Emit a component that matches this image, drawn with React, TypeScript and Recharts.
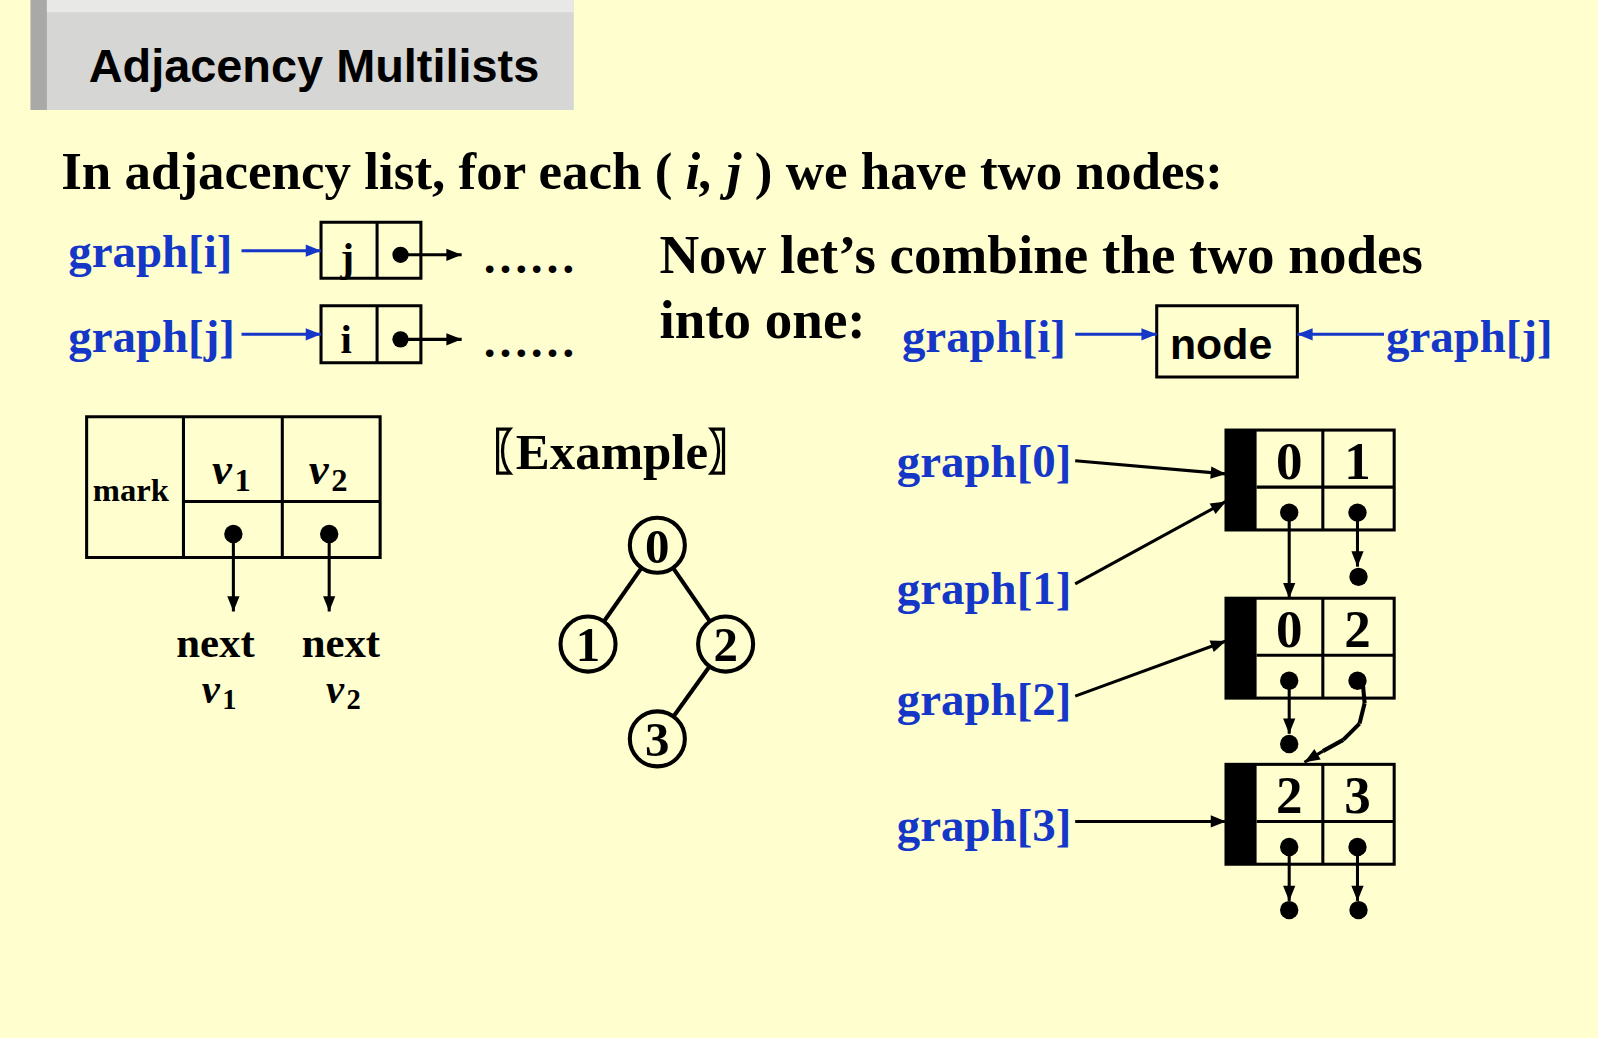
import { ScatterChart, Scatter, XAxis, YAxis, ReferenceLine, ReferenceArea, ReferenceDot } from 'recharts';

// the layout is measured on a 1568-wide copy; it is scaled up to 1598 on screen
const W = 1568;
const H = 1019;
const K = 1598 / 1568;
const BLUE = '#1537c8';
const SERIF = '"Liberation Serif", "DejaVu Serif", serif';
const SANS = '"Liberation Sans", Arial, sans-serif';

// text items: x, y (baseline), label, size, colour, italic, font
const texts = [
  { x: 87, y: 80, t: 'Adjacency Multilists', s: 46, c: '#000', f: SANS },
  { x: 67, y: 262, t: 'graph[i]', s: 46, c: BLUE },
  { x: 67, y: 345, t: 'graph[j]', s: 46, c: BLUE },
  { x: 334, y: 266, t: 'j', s: 40, c: '#000' },
  { x: 334, y: 346, t: 'i', s: 40, c: '#000' },
  { x: 473, y: 268, t: '……', s: 46, c: '#000' },
  { x: 473, y: 350, t: '……', s: 46, c: '#000' },
  { x: 647, y: 268, t: 'Now let\u2019s combine the two nodes', s: 54, c: '#000' },
  { x: 647, y: 332, t: 'into one:', s: 54, c: '#000' },
  { x: 885, y: 345, t: 'graph[i]', s: 46, c: BLUE },
  { x: 1148, y: 352, t: 'node', s: 42, c: '#000', f: SANS },
  { x: 1360, y: 345, t: 'graph[j]', s: 46, c: BLUE },
  { x: 91, y: 492, t: 'mark', s: 32, c: '#000' },
  { x: 208, y: 475, t: 'v', s: 44, c: '#000', i: true },
  { x: 230, y: 482, t: '1', s: 32, c: '#000' },
  { x: 303, y: 475, t: 'v', s: 44, c: '#000', i: true },
  { x: 325, y: 482, t: '2', s: 32, c: '#000' },
  { x: 173, y: 645, t: 'next', s: 42, c: '#000' },
  { x: 198, y: 690, t: 'v', s: 40, c: '#000', i: true },
  { x: 218, y: 696, t: '1', s: 28, c: '#000' },
  { x: 296, y: 645, t: 'next', s: 42, c: '#000' },
  { x: 320, y: 690, t: 'v', s: 40, c: '#000', i: true },
  { x: 340, y: 696, t: '2', s: 28, c: '#000' },
  { x: 880, y: 468, t: 'graph[0]', s: 46, c: BLUE },
  { x: 880, y: 593, t: 'graph[1]', s: 46, c: BLUE },
  { x: 880, y: 702, t: 'graph[2]', s: 46, c: BLUE },
  { x: 880, y: 825, t: 'graph[3]', s: 46, c: BLUE },
];

// heading pieces: text, italic
const heading = [
  { t: 'In adjacency list, for each ( ', i: false },
  { t: 'i, j', i: true },
  { t: ' ) we have two nodes:', i: false },
];

// graph vertices
const vertices = [
  { x: 645, y: 535, t: '0' },
  { x: 577, y: 632, t: '1' },
  { x: 712, y: 632, t: '2' },
  { x: 645, y: 725, t: '3' },
];
const edges = [[0, 1], [0, 2], [2, 3]];

// multilist nodes: top y, v1, v2
const mnodes = [
  { y: 422, a: '0', b: '1' },
  { y: 587, a: '0', b: '2' },
  { y: 750, a: '2', b: '3' },
];

const boxes = [
  { x1: 315, x2: 413, y1: 218, y2: 273 },
  { x1: 315, x2: 413, y1: 300, y2: 356 },
  { x1: 1135, x2: 1273, y1: 300, y2: 370 },
  { x1: 85, x2: 373, y1: 409, y2: 547 },
];

const lines = [
  { x1: 370, y1: 218, x2: 370, y2: 273 },
  { x1: 370, y1: 300, x2: 370, y2: 356 },
  { x1: 180, y1: 409, x2: 180, y2: 547 },
  { x1: 277, y1: 409, x2: 277, y2: 547 },
  { x1: 180, y1: 492, x2: 373, y2: 492 },
];

const arrows = [
  { x1: 237, y1: 246, x2: 315, y2: 246, c: BLUE },
  { x1: 237, y1: 328, x2: 315, y2: 328, c: BLUE },
  { x1: 393, y1: 250, x2: 453, y2: 250, c: '#000' },
  { x1: 393, y1: 333, x2: 453, y2: 333, c: '#000' },
  { x1: 1055, y1: 328, x2: 1135, y2: 328, c: BLUE },
  { x1: 1358, y1: 328, x2: 1273, y2: 328, c: BLUE },
  { x1: 229, y1: 524, x2: 229, y2: 600, c: '#000' },
  { x1: 323, y1: 524, x2: 323, y2: 600, c: '#000' },
  { x1: 1055, y1: 452, x2: 1203, y2: 465, c: '#000' },
  { x1: 1055, y1: 573, x2: 1203, y2: 492, c: '#000' },
  { x1: 1055, y1: 683, x2: 1203, y2: 629, c: '#000' },
  { x1: 1055, y1: 806, x2: 1203, y2: 806, c: '#000' },
  { x1: 1265, y1: 503, x2: 1265, y2: 587, c: '#000' },
  { x1: 1332, y1: 503, x2: 1332, y2: 556, c: '#000' },
  { x1: 1265, y1: 668, x2: 1265, y2: 720, c: '#000' },
  { x1: 1265, y1: 832, x2: 1265, y2: 884, c: '#000' },
  { x1: 1332, y1: 832, x2: 1332, y2: 884, c: '#000' },
  { x1: 1298, y1: 737, x2: 1280, y2: 748, c: '#000' },
];

const curve = [
  { x: 1337, y: 668 }, { x: 1339, y: 690 }, { x: 1334, y: 710 },
  { x: 1318, y: 726 }, { x: 1298, y: 737 },
];

const dots = [
  { x: 393, y: 250, r: 8 }, { x: 393, y: 333, r: 8 },
  { x: 229, y: 524, r: 9 }, { x: 323, y: 524, r: 9 },
  { x: 1333, y: 566, r: 9 }, { x: 1265, y: 730, r: 9 },
  { x: 1265, y: 893, r: 9 }, { x: 1333, y: 893, r: 9 },
];

const TextShape = (p: any) => {
  const d = p.payload;
  return (
    <text x={p.cx} y={p.cy} fontSize={d.s} fill={d.c} fontWeight="bold"
      fontStyle={d.i ? 'italic' : 'normal'} fontFamily={d.f || SERIF}>
      {d.t}
    </text>
  );
};

const HeadingShape = (p: any) => (
  <text x={p.cx} y={p.cy} fontSize={52} fontWeight="bold" fontFamily={SERIF} style={{ whiteSpace: 'pre' }}>
    {heading.map((h, i) => (
      <tspan key={i} fontStyle={h.i ? 'italic' : 'normal'}>{h.t}</tspan>
    ))}
  </text>
);

const ExampleShape = (p: any) => (
  <text x={p.cx} y={p.cy} fontSize={50} fontWeight="bold" fontFamily={SERIF}>
    <tspan>{'\u3016'}</tspan>
    <tspan dx={-22}>Example</tspan>
    <tspan>{'\u3017'}</tspan>
  </text>
);

const HeadShape = (p: any) => {
  const d = p.payload;
  const ang = (Math.atan2(d.y2 - d.y1, d.x2 - d.x1) * 180) / Math.PI;
  return (
    <polygon points="0,0 -15,-6 -15,6" fill={d.c}
      transform={`translate(${p.cx},${p.cy}) rotate(${ang})`} />
  );
};

const VertexShape = (p: any) => (
  <g>
    <circle cx={p.cx} cy={p.cy} r={27} fill="none" stroke="#000" strokeWidth={4} />
    <text x={p.cx} y={p.cy + 17} textAnchor="middle" fontSize={48} fontWeight="bold" fontFamily={SERIF}>
      {p.payload.t}
    </text>
  </g>
);

const MNodeShape = (p: any) => {
  const d = p.payload;
  const x = p.cx;
  const y = p.cy;
  return (
    <g>
      <rect x={x} y={y} width={165} height={98} fill="none" stroke="#000" strokeWidth={3} />
      <rect x={x} y={y} width={30} height={98} fill="#000" />
      <line x1={x + 95} y1={y} x2={x + 95} y2={y + 98} stroke="#000" strokeWidth={3} />
      <line x1={x + 30} y1={y + 56} x2={x + 165} y2={y + 56} stroke="#000" strokeWidth={3} />
      <text x={x + 62} y={y + 48} textAnchor="middle" fontSize={52} fontWeight="bold" fontFamily={SERIF}>{d.a}</text>
      <text x={x + 129} y={y + 48} textAnchor="middle" fontSize={52} fontWeight="bold" fontFamily={SERIF}>{d.b}</text>
      <circle cx={x + 62} cy={y + 81} r={9} fill="#000" />
      <circle cx={x + 129} cy={y + 81} r={9} fill="#000" />
    </g>
  );
};

export default function App() {
  const headData = arrows.map((a) => ({ ...a, x: a.x2, y: a.y2 }));
  const mnodeData = mnodes.map((n) => ({ ...n, x: 1203 }));
  return (
    <div style={{ position: 'absolute', left: 0, top: 0, width: 1598, height: 1038, background: '#FEFECF', overflow: 'hidden' }}>
      <div style={{ width: W, height: H, transform: `scale(${K})`, transformOrigin: '0 0' }}>
        <ScatterChart width={W} height={H} margin={{ top: 0, right: 0, bottom: 0, left: 0 }}>
          <XAxis type="number" dataKey="x" domain={[0, W]} hide allowDataOverflow />
          <YAxis type="number" dataKey="y" domain={[0, H]} reversed hide allowDataOverflow />
          <ReferenceArea x1={30} x2={563} y1={0} y2={108} fill="#d6d6d4" fillOpacity={1} stroke="none" />
          <ReferenceArea x1={30} x2={46} y1={0} y2={108} fill="#a9a9a7" fillOpacity={1} stroke="none" />
          <ReferenceArea x1={46} x2={563} y1={0} y2={12} fill="#e8e8e6" fillOpacity={1} stroke="none" />
          {boxes.map((b, i) => (
            <ReferenceArea key={`b${i}`} {...b} fill="none" stroke="#000" strokeWidth={3} fillOpacity={0} />
          ))}
          {lines.map((l, i) => (
            <ReferenceLine key={`l${i}`} segment={[{ x: l.x1, y: l.y1 }, { x: l.x2, y: l.y2 }]} stroke="#000" strokeWidth={3} />
          ))}
          {edges.map(([a, b], i) => {
            const p = vertices[a];
            const q = vertices[b];
            const len = Math.hypot(q.x - p.x, q.y - p.y);
            const ux = (q.x - p.x) / len;
            const uy = (q.y - p.y) / len;
            return (
              <ReferenceLine key={`e${i}`} segment={[{ x: p.x + ux * 28, y: p.y + uy * 28 }, { x: q.x - ux * 28, y: q.y - uy * 28 }]} stroke="#000" strokeWidth={4} />
            );
          })}
          {arrows.map((a, i) => (
            <ReferenceLine key={`a${i}`} segment={[{ x: a.x1, y: a.y1 }, { x: a.x2, y: a.y2 }]} stroke={a.c} strokeWidth={3} />
          ))}
          {curve.slice(1).map((p, i) => (
            <ReferenceLine key={`c${i}`} segment={[curve[i], p]} stroke="#000" strokeWidth={4} />
          ))}
          {dots.map((d, i) => (
            <ReferenceDot key={`d${i}`} x={d.x} y={d.y} r={d.r} fill="#000" stroke="none" />
          ))}
          <Scatter data={headData} shape={HeadShape} isAnimationActive={false} />
          <Scatter data={vertices} shape={VertexShape} isAnimationActive={false} />
          <Scatter data={mnodeData} shape={MNodeShape} isAnimationActive={false} />
          <Scatter data={texts} shape={TextShape} isAnimationActive={false} />
          <Scatter data={[{ x: 60, y: 185 }]} shape={HeadingShape} isAnimationActive={false} />
          <Scatter data={[{ x: 478, y: 460 }]} shape={ExampleShape} isAnimationActive={false} />
        </ScatterChart>
      </div>
    </div>
  );
}
